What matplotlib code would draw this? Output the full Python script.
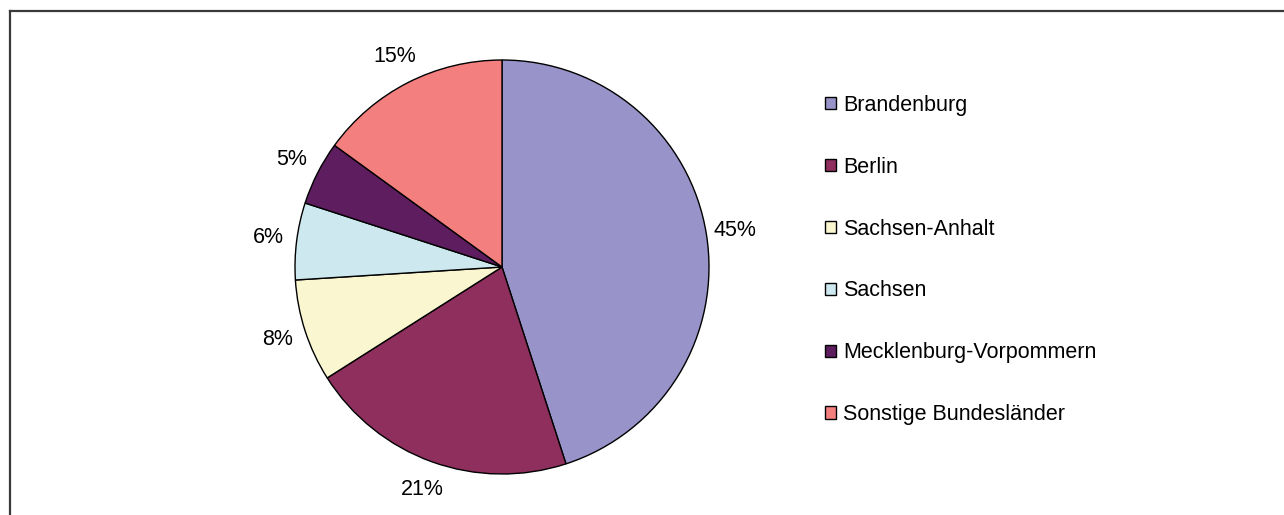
import matplotlib
matplotlib.use("Agg")
import matplotlib.pyplot as plt
from matplotlib.patches import Patch
from matplotlib.lines import Line2D

plt.rcParams["font.family"] = ["Liberation Sans", "DejaVu Sans"]

# share of respondents by federal state
states = [
    "Brandenburg",
    "Berlin",
    "Sachsen-Anhalt",
    "Sachsen",
    "Mecklenburg-Vorpommern",
    "Sonstige Bundesländer",
]
shares = [45, 21, 8, 6, 5, 15]
colors = ["#9893c8", "#8f2f5e", "#faf6d0", "#cde9ef", "#5e1d5e", "#f47f7f"]

W, H = 1284, 515
fig = plt.figure(figsize=(W / 100, H / 100), dpi=100)

# pie centred at (502, 267) px with radius 207 px
cx, cy, r = 502, 267, 207
ax = fig.add_axes([(cx - r) / W, (H - cy - r) / H, 2 * r / W, 2 * r / H])
wedges, texts, autotexts = ax.pie(
    shares,
    colors=colors,
    startangle=90,
    counterclock=False,
    autopct="%1.0f%%",
    pctdistance=1.14,
    wedgeprops=dict(edgecolor="black", linewidth=1.0),
    textprops=dict(fontsize=15.5, color="black"),
)
ax.set_xlim(-1, 1)
ax.set_ylim(-1, 1)
ax.set_aspect("equal")
ax.axis("off")

handles = [Patch(facecolor=c, edgecolor="black", linewidth=1.0) for c in colors]
fig.legend(
    handles, states,
    loc="center left",
    bbox_to_anchor=(825 / W, 1 - 260 / H),
    frameon=False,
    fontsize=15.5,
    handlelength=0.5,
    handleheight=0.5,
    handletextpad=0.35,
    labelspacing=1.9,
    borderpad=0,
    borderaxespad=0,
)

# outer frame (only top and left edges visible)
frame_kw = dict(transform=fig.transFigure, color="#3a3a3a", linewidth=1.6)
fig.add_artist(Line2D([9.5 / W, 1], [1 - 11 / H, 1 - 11 / H], **frame_kw))
fig.add_artist(Line2D([9.5 / W, 9.5 / W], [0, 1 - 11 / H], **frame_kw))

fig.savefig("out.png", dpi=100, facecolor="white")
